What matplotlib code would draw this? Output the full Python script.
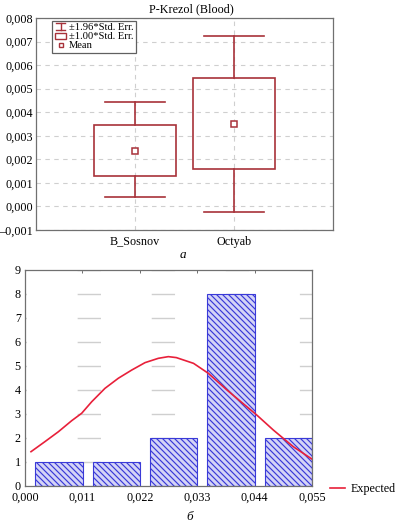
import matplotlib
matplotlib.use("Agg")
import matplotlib.pyplot as plt
from matplotlib.patches import Rectangle
from matplotlib.lines import Line2D
from matplotlib.legend_handler import HandlerBase
from matplotlib.ticker import FuncFormatter, FixedLocator

DPI = 90
P = 100 / DPI  # keeps pixel sizes as designed for 100 dpi

plt.rcParams['font.family'] = ['Liberation Serif', 'DejaVu Serif']
plt.rcParams['font.size'] = 8.7 * P
plt.rcParams['hatch.linewidth'] = 0.85 * P

# ---------------- data ----------------
groups = ['B_Sosnov', 'Octyab']
means = [0.00237, 0.00349]
se_low = [0.00129, 0.00158]
se_high = [0.00346, 0.00544]
ci_low = [0.00039, -0.00022]
ci_high = [0.00442, 0.00725]
top_yticks = [-0.001, 0.000, 0.001, 0.002, 0.003, 0.004, 0.005, 0.006, 0.007, 0.008]

bin_centers = [0.0065, 0.0175, 0.0285, 0.0395, 0.0505]
bin_counts = [1, 1, 2, 8, 2]
bottom_xticks = [0.000, 0.011, 0.022, 0.033, 0.044, 0.055]
bottom_yticks = [0, 1, 2, 3, 4, 5, 6, 7, 8, 9]
exp_x = [0.00115, 0.00383, 0.00639, 0.00894, 0.01086, 0.01278, 0.01533, 0.01789,
         0.02044, 0.02300, 0.02555, 0.02747, 0.02900, 0.03230, 0.03510, 0.03870,
         0.04440, 0.04760, 0.05140, 0.05500]
exp_y = [1.43, 1.85, 2.26, 2.72, 3.03, 3.51, 4.07, 4.49,
         4.83, 5.14, 5.32, 5.39, 5.35, 5.11, 4.70, 4.00,
         2.96, 2.33, 1.64, 1.12]

RED = '#a8323a'
BLUE = '#3a3ad8'
SPINE = '#707070'
GRID = '#cfcfcf'

W, H = 397, 522
fig = plt.figure(figsize=(W / DPI, H / DPI), dpi=DPI)


def frac(x0, y0, x1, y1):
    return [x0 / W, 1 - y1 / H, (x1 - x0) / W, (y1 - y0) / H]


def comma_fmt(v, pos):
    s = f"{v:.3f}".replace('.', ',')
    if s.startswith('-'):
        s = '–' + s[1:]
    if s == '–0,000':
        s = '0,000'
    return s


# ---------------- top chart ----------------
ax1 = fig.add_axes(frac(36, 18, 333, 230))
ax1.set_xlim(-1, 2)
ax1.set_ylim(-0.001, 0.008)
ax1.yaxis.set_major_locator(FixedLocator(top_yticks))
ax1.yaxis.set_major_formatter(FuncFormatter(comma_fmt))
ax1.set_xticks(range(len(groups)))
ax1.set_xticklabels(groups)
ax1.grid(True, color=GRID, linestyle=(0, (4, 4)), linewidth=0.8 * P)
ax1.set_axisbelow(True)
ax1.tick_params(axis='x', length=0, pad=4 * P)
ax1.tick_params(axis='y', length=0, pad=2 * P)
for sp in ax1.spines.values():
    sp.set_color(SPINE)
    sp.set_linewidth(0.9 * P)

box_w = 0.82
cap_w = 0.6
lw = 1.2 * P
for i in range(len(groups)):
    ax1.add_patch(Rectangle((i - box_w / 2, se_low[i]), box_w, se_high[i] - se_low[i],
                            fill=False, edgecolor=RED, linewidth=lw, zorder=3))
    ax1.plot([i, i], [se_high[i], ci_high[i]], color=RED, lw=lw, zorder=3)
    ax1.plot([i, i], [se_low[i], ci_low[i]], color=RED, lw=lw, zorder=3)
    ax1.plot([i - cap_w / 2, i + cap_w / 2], [ci_high[i], ci_high[i]], color=RED, lw=lw, zorder=3)
    ax1.plot([i - cap_w / 2, i + cap_w / 2], [ci_low[i], ci_low[i]], color=RED, lw=lw, zorder=3)
ax1.plot(range(len(groups)), means, linestyle='none', marker='s', markersize=4.5 * P,
         markerfacecolor='white', markeredgecolor=RED, markeredgewidth=1.1 * P, zorder=4)


class WhiskerHandler(HandlerBase):
    def create_artists(self, legend, orig_handle, xdescent, ydescent, width, height, fontsize, trans):
        x0 = -xdescent
        y0 = -ydescent
        cx = x0 + width / 2
        cw = width * 0.7
        top = y0 + height * 1.0
        bot = y0 + height * 0.0
        arts = [
            Line2D([cx - cw / 2, cx + cw / 2], [top, top], color=RED, lw=1.0 * P),
            Line2D([cx - cw / 2, cx + cw / 2], [bot, bot], color=RED, lw=1.0 * P),
            Line2D([cx, cx], [bot, top], color=RED, lw=1.0 * P),
        ]
        for a in arts:
            a.set_transform(trans)
        return arts


class BoxHandler(HandlerBase):
    def create_artists(self, legend, orig_handle, xdescent, ydescent, width, height, fontsize, trans):
        r = Rectangle((-xdescent + 0.5, -ydescent + height * 0.05), width - 1, height * 0.9,
                      fill=False, edgecolor=RED, lw=1.0 * P, transform=trans)
        return [r]


class _W:
    pass


class _B:
    pass


h_mean = Line2D([], [], linestyle='none', marker='s', markersize=3.5 * P,
                markerfacecolor='white', markeredgecolor=RED, markeredgewidth=1.0 * P)
leg1 = ax1.legend([_W(), _B(), h_mean], ['±1.96*Std. Err.', '±1.00*Std. Err.', 'Mean'],
                  handler_map={_W: WhiskerHandler(), _B: BoxHandler()},
                  loc='upper left', bbox_to_anchor=(0.053, 0.988), fontsize=7.6 * P,
                  frameon=True, fancybox=False, edgecolor='#606060', framealpha=1,
                  handlelength=1.2, handleheight=0.6, handletextpad=0.15,
                  labelspacing=0.0, borderpad=0.25, borderaxespad=0.0)
leg1.get_frame().set_linewidth(0.9 * P)

fig.text(191 / W, 1 - 9 / H, 'P-Krezol (Blood)', ha='center', va='center', fontsize=8.7 * P)
fig.text(183 / W, 1 - 255 / H, 'а', ha='center', va='center', fontsize=9.5 * P, style='italic')

# ---------------- bottom chart ----------------
ax2 = fig.add_axes(frac(25, 270, 312, 486))
ax2.set_xlim(0, 0.055)
ax2.set_ylim(0, 9)
ax2.bar(bin_centers, bin_counts, width=0.0091, facecolor='#d4d4f6', edgecolor=BLUE,
        hatch='\\' * 5, linewidth=0.8 * P, zorder=2)
ax2.plot(exp_x, exp_y, color='#e8203a', lw=1.2 * P, zorder=3)
ax2.xaxis.set_major_locator(FixedLocator(bottom_xticks))
ax2.xaxis.set_major_formatter(FuncFormatter(comma_fmt))
ax2.yaxis.set_major_locator(FixedLocator(bottom_yticks))
ax2.yaxis.grid(True, color=GRID, linewidth=1.0 * P,
               linestyle=(14.2 * P, (15.1 * P, 32.9 * P)))
ax2.set_axisbelow(True)
ax2.tick_params(axis='y', length=0, pad=3 * P)
ax2.tick_params(axis='x', top=True, bottom=False, direction='in', length=2 * P,
                color=SPINE, pad=4 * P)
for sp in ax2.spines.values():
    sp.set_color(SPINE)
    sp.set_linewidth(0.9 * P)

fig.legend(handles=[Line2D([], [], color='#e8203a', lw=1.2 * P)], labels=['Expected'],
           loc='center left', bbox_to_anchor=(330 / W, 1 - 489 / H), frameon=False,
           fontsize=8.7 * P, handlelength=1.2, handletextpad=0.5, borderpad=0, borderaxespad=0)

fig.text(190 / W, 1 - 517 / H, 'б', ha='center', va='center', fontsize=9.5 * P, style='italic')

fig.savefig('out.png', dpi=DPI)
